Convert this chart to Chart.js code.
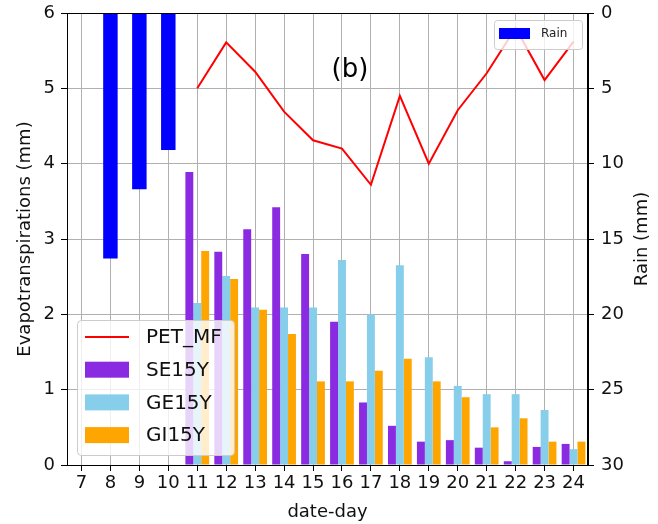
<!DOCTYPE html>
<html>
<head>
<meta charset="utf-8">
<script src="https://cdn.jsdelivr.net/npm/chart.js@4/dist/chart.umd.min.js"></script>
<style>
  html, body { margin: 0; padding: 0; background: #fff; }
  #wrap { width: 658px; height: 524px; }
</style>
</head>
<body>
<div id="wrap"><canvas id="c" width="658" height="524"></canvas></div>
<script>
// date-day 7 .. 24
const days = ['7', '8', '9', '10', '11', '12', '13', '14', '15', '16', '17', '18', '19', '20', '21', '22', '23', '24'];

// rain (mm), right axis, reversed
const rain = [null, 16.3, 11.7, 9.1, null, null, null, null, null, null, null, null, null, null, null, null, null, null];

// evapotranspirations (mm)
const petMF = [null, null, null, null, 5.0, 5.61, 5.22, 4.69, 4.31, 4.2, 3.72, 4.9, 4.0, 4.71, 5.2, 5.8, 5.11, 5.62];
const se15y = [null, null, null, null, 3.89, 2.83, 3.13, 3.42, 2.8, 1.9, 0.83, 0.52, 0.31, 0.33, 0.23, 0.05, 0.24, 0.28];
const ge15y = [null, null, null, null, 2.15, 2.51, 2.09, 2.09, 2.09, 2.72, 2.0, 2.65, 1.43, 1.05, 0.94, 0.94, 0.73, 0.21];
const gi15y = [null, null, null, null, 2.84, 2.47, 2.06, 1.74, 1.11, 1.11, 1.25, 1.41, 1.11, 0.9, 0.5, 0.62, 0.31, 0.31];

const etTicks = [0, 1, 2, 3, 4, 5, 6];
const rainTicks = [0, 5, 10, 15, 20, 25, 30];

const FONT = 'DejaVu Sans';

// frame, panel label, right axis title and the two legends drawn inside the plot
const overlay = {
  id: 'overlay',
  afterDatasetsDraw(chart) {
    const { ctx, chartArea: a } = chart;
    const ds = chart.data.datasets;
    ctx.save();

    ctx.strokeStyle = '#000';
    ctx.lineWidth = 1;
    ctx.strokeRect(a.left + 0.5, a.top + 0.5, a.right - a.left - 1, a.bottom - a.top);

    ctx.fillStyle = '#000';
    ctx.font = '26px ' + FONT;
    ctx.textAlign = 'center';
    ctx.textBaseline = 'middle';
    ctx.fillText('(b)', 350, 70);

    // matplotlib writes the right label bottom-to-top too
    ctx.save();
    ctx.translate(642, (a.top + a.bottom) / 2);
    ctx.rotate(-Math.PI / 2);
    ctx.fillStyle = '#111';
    ctx.font = '18px ' + FONT;
    ctx.fillText('Rain (mm)', 0, 0);
    ctx.restore();

    function box(x, y, w, h, r) {
      ctx.beginPath();
      ctx.moveTo(x + r, y);
      ctx.arcTo(x + w, y, x + w, y + h, r);
      ctx.arcTo(x + w, y + h, x, y + h, r);
      ctx.arcTo(x, y + h, x, y, r);
      ctx.arcTo(x, y, x + w, y, r);
      ctx.closePath();
      ctx.fillStyle = 'rgba(255,255,255,0.8)';
      ctx.fill();
      ctx.strokeStyle = '#cccccc';
      ctx.lineWidth = 1;
      ctx.stroke();
    }

    // rain legend, top right
    box(494.5, 20.5, 88, 29, 3);
    ctx.fillStyle = ds[0].backgroundColor;
    ctx.fillRect(499, 28, 31, 11);
    ctx.fillStyle = '#222';
    ctx.font = '12px ' + FONT;
    ctx.textAlign = 'left';
    ctx.fillText(ds[0].label, 541, 34);

    // left-axis legend, bottom left
    box(77.5, 320.5, 157, 135, 4);
    ctx.font = '20px ' + FONT;
    [1, 2, 3, 4].forEach((k, i) => {
      const y = 337 + i * 32.7;
      const d = ds[k];
      if (d.type === 'line') {
        ctx.strokeStyle = d.borderColor;
        ctx.lineWidth = 2;
        ctx.beginPath();
        ctx.moveTo(85, y);
        ctx.lineTo(129, y);
        ctx.stroke();
      } else {
        ctx.fillStyle = d.backgroundColor;
        ctx.fillRect(85, y - 8, 44, 16);
      }
      ctx.fillStyle = '#111';
      ctx.fillText(d.label, 146, y + 1);
    });

    ctx.restore();
  }
};

// keep the plot box where the reference has it
const noEdgePad = s => { s.paddingTop = 0; s.paddingBottom = 0; };

new Chart(document.getElementById('c'), {
  data: {
    labels: days,
    datasets: [
      {
        type: 'bar', label: 'Rain', data: rain, yAxisID: 'yRain',
        backgroundColor: '#0000ff', grouped: false,
        categoryPercentage: 1, barPercentage: 0.5, order: 3,
      },
      {
        type: 'line', label: 'PET_MF', data: petMF, yAxisID: 'y',
        borderColor: '#ff0000', borderWidth: 2, pointRadius: 0, tension: 0,
        spanGaps: false, order: 0,
      },
      {
        type: 'bar', label: 'SE15Y', data: se15y, yAxisID: 'y',
        backgroundColor: '#8a2be2', categoryPercentage: 0.82, barPercentage: 1, order: 2,
      },
      {
        type: 'bar', label: 'GE15Y', data: ge15y, yAxisID: 'y',
        backgroundColor: '#87ceeb', categoryPercentage: 0.82, barPercentage: 1, order: 2,
      },
      {
        type: 'bar', label: 'GI15Y', data: gi15y, yAxisID: 'y',
        backgroundColor: '#ffa500', categoryPercentage: 0.82, barPercentage: 1, order: 2,
      },
    ],
  },
  options: {
    responsive: false,
    animation: false,
    layout: { padding: { top: 13, left: 0, right: 0, bottom: 0 } },
    plugins: { legend: { display: false }, tooltip: { enabled: false } },
    scales: {
      x: {
        type: 'category', offset: true,
        grid: { offset: false, color: '#b0b0b0', tickColor: '#000', tickLength: 6, lineWidth: 1 },
        border: { color: '#000' },
        ticks: { color: '#111', font: { family: FONT, size: 18 }, autoSkip: false, maxRotation: 0, padding: 2 },
        title: { display: true, text: 'date-day', color: '#111', font: { family: FONT, size: 18 }, padding: { top: 1, bottom: 1 } },
        afterFit: s => { s.height = 59; s.paddingLeft = 0; s.paddingRight = 0; },
      },
      y: {
        position: 'left', min: 0, max: 6,
        afterBuildTicks: s => { s.ticks = etTicks.map(v => ({ value: v })); },
        grid: { color: '#b0b0b0', tickColor: '#000', tickLength: 6 },
        border: { color: '#000' },
        ticks: { color: '#111', font: { family: FONT, size: 18 }, padding: 6 },
        title: { display: true, text: 'Evapotranspirations (mm)', color: '#111', font: { family: FONT, size: 18 }, padding: { top: 15, bottom: 15 } },
        afterFit: s => { s.width = 67; noEdgePad(s); },
      },
      yRain: {
        position: 'right', min: 0, max: 30, reverse: true,
        afterBuildTicks: s => { s.ticks = rainTicks.map(v => ({ value: v })); },
        grid: { drawOnChartArea: false, tickColor: '#000', tickLength: 6 },
        border: { color: '#000' },
        ticks: { color: '#111', font: { family: FONT, size: 18 }, padding: 7 },
        afterFit: s => { s.width = 70; noEdgePad(s); },
      },
    },
  },
  plugins: [overlay],
});
</script>
</body>
</html>
